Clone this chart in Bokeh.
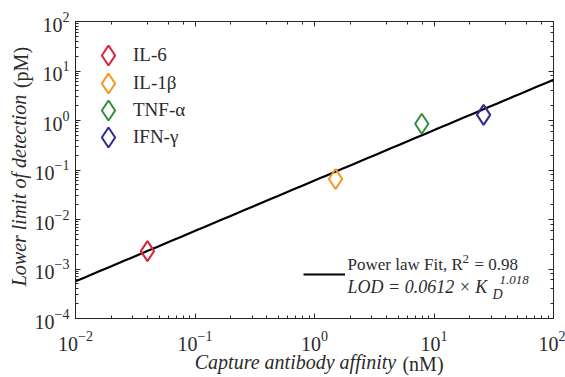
import numpy as np
from bokeh.plotting import figure
from bokeh.models import (LogAxis, Label, Legend, LegendItem, CustomJSTickFormatter,
                          LogTicker, FixedTicker)
from bokeh.embed import file_html
from bokeh.resources import INLINE

# ---- data ----
cytokines = ["IL-6", "IL-1β", "TNF-α", "IFN-γ"]
kd_nM = [0.04, 1.5, 7.9, 26.0]
lod_pM = [0.0023, 0.066, 0.86, 1.3]
colors = ["#dc1f3a", "#f5951f", "#2f8f3c", "#2d2a8c"]
fit_coef = 0.0612
fit_exp = 1.018
fit_r2 = 0.98
x_limits = [1e-2, 1e2]
y_limits = [1e-4, 1e2]
x_title = ["Capture antibody affinity", "(nM)"]
y_title = ["Lower limit of detection", "(pM)"]

FONT = "Liberation Serif"
TXT = "#2b2b2b"
AX = "#262626"

FL, FT, FW, FH = 75, 21, 478, 297   # frame placement (px)

p = figure(x_axis_type="log", y_axis_type="log",
           x_range=tuple(x_limits), y_range=tuple(y_limits),
           frame_width=FW, frame_height=FH,
           min_border_left=FL, min_border_right=565 - FL - FW,
           min_border_top=FT, min_border_bottom=377 - FT - FH,
           output_backend="svg", toolbar_location=None)
p.grid.visible = False
p.outline_line_color = AX
p.background_fill_color = "white"


def px_to_data(px, py):
    lx = np.log10(x_limits[0]) + (px - FL) / FW * (np.log10(x_limits[1]) - np.log10(x_limits[0]))
    ly = np.log10(y_limits[1]) - (py - FT) / FH * (np.log10(y_limits[1]) - np.log10(y_limits[0]))
    return float(10 ** lx), float(10 ** ly)


def style_axis(ax, labels=True):
    ax.axis_line_color = AX
    ax.major_tick_line_color = AX
    ax.minor_tick_line_color = AX
    ax.major_tick_in = 5
    ax.major_tick_out = 0
    ax.minor_tick_in = 3
    ax.minor_tick_out = 0
    ax.major_label_text_font = FONT
    ax.major_label_text_font_size = "20px"
    ax.major_label_text_color = TXT
    if not labels:
        ax.formatter = CustomJSTickFormatter(code="return ''")
        ax.major_label_text_font_size = "1px"
        ax.major_label_standoff = 0


for ax in p.xaxis:
    style_axis(ax)
    ax.major_label_standoff = 12
for ax in p.yaxis:
    style_axis(ax)
    ax.major_label_standoff = 6

right = LogAxis(ticker=LogTicker())
style_axis(right, labels=False)
p.add_layout(right, "right")
top = LogAxis(ticker=LogTicker())
style_axis(top, labels=False)
p.add_layout(top, "above")


def title_axis(pos, text, italic, side, standoff):
    ax = LogAxis(ticker=FixedTicker(ticks=[pos], minor_ticks=[]),
                 major_label_overrides={pos: text})
    ax.axis_line_color = None
    ax.major_tick_line_color = None
    ax.minor_tick_line_color = None
    ax.major_tick_in = 0
    ax.major_tick_out = 0
    ax.major_label_text_font = FONT
    ax.major_label_text_font_size = "20px"
    ax.major_label_text_font_style = "italic" if italic else "normal"
    ax.major_label_text_color = TXT
    ax.major_label_standoff = standoff
    if side == "left":
        ax.major_label_orientation = "vertical"
    p.add_layout(ax, side)


# axis titles (mixed italic / upright), drawn as tick labels of label-only axes
xa = px_to_data(295, 0)[0]
xb = px_to_data(422.5, 0)[0]
title_axis(xa, x_title[0], True, "below", -3)
title_axis(xb, x_title[1], False, "below", -23)
ya = px_to_data(0, 190)[1]
yb = px_to_data(0, 67)[1]
title_axis(ya, y_title[0], True, "left", 2)
title_axis(yb, y_title[1], False, "left", -27)

# fit line
fit_x = np.geomspace(x_limits[0], x_limits[1], 60)
fit_y = fit_coef * fit_x ** fit_exp
fit_r = p.line(fit_x, fit_y, line_color="black", line_width=2.2)

# data points + legend (one legend per row for tight row spacing)
row_y = [263, 235, 208, 181]   # legend row centres (px above frame bottom)
for name, kx, ly, c, ry in zip(cytokines, kd_nM, lod_pM, colors, row_y):
    r = p.scatter([kx], [ly], marker="diamond", size=20, fill_color=None,
                  line_color=c, line_width=2)
    lg = Legend(items=[LegendItem(label=name, renderers=[r])], location=(8, ry - 25),
                margin=0, padding=0, glyph_width=50, glyph_height=50, label_standoff=0,
                label_text_font=FONT, label_text_font_size="19px", label_text_color=TXT,
                border_line_color=None, background_fill_alpha=0)
    p.add_layout(lg, "center")

leg2 = Legend(items=[LegendItem(label=" ", renderers=[fit_r])], location=(228, 39),
              margin=0, padding=0, glyph_width=42, glyph_height=10, label_standoff=0,
              label_width=0, label_text_font_size="1px",
              border_line_color=None, background_fill_alpha=0)
p.add_layout(leg2, "center")


def lab(text, px, py, size="17px", style="normal"):
    # px, py: position in picture pixels (left edge, vertical centre)
    p.add_layout(Label(x=px - FL, y=FT + FH - py, x_units="screen", y_units="screen",
                       text=text, text_font=FONT, text_font_size=size,
                       text_font_style=style, text_color=TXT, text_align="left",
                       text_baseline="middle"))


# fit annotation
lab("Power law Fit, R", 347, 264)
lab("2", 462, 258, size="13px")
lab(f"= {fit_r2}", 474, 264)
lab(f"LOD = {fit_coef} × K", 347, 286, size="18px", style="italic")
lab("D", 492, 294, size="14px", style="italic")
lab(f"{fit_exp}", 499, 279, size="13px", style="italic")

open("out.html", "w").write(file_html(p, INLINE))
